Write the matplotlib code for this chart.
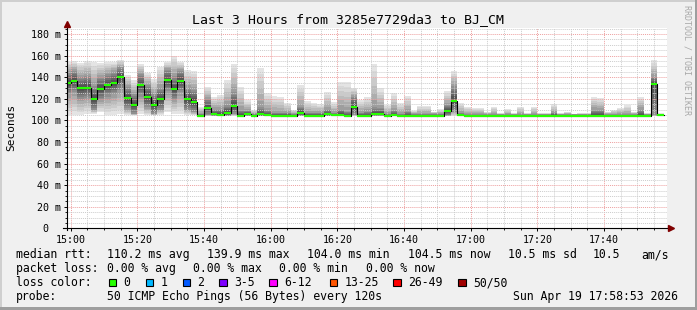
import numpy as np
import matplotlib
matplotlib.use("Agg")
import matplotlib.pyplot as plt
from matplotlib.patches import Rectangle

plt.rcParams['font.family'] = ['DejaVu Sans Mono']

W, H = 697, 310

# 2 minute bins, minutes after 15:00 (first bin starts 14:58)
bin_start = np.arange(-2, 178, 2)

median = [134.5, 136.7, 130.2, 130.2, 120.0, 129.3, 132.7, 134.5, 140.0, 121.0,
          114.3, 132.7, 121.7, 114.3, 119.8, 137.5, 129.3, 136.5, 119.8, 117.2,
          104.2, 111.5, 106.0, 105.3, 106.8, 113.4, 104.2, 106.0, 104.2, 106.0,
          105.0, 104.2, 104.2, 104.2, 104.2, 106.8, 104.2, 104.2, 104.0, 106.0,
          105.0, 105.0, 104.2, 112.3, 104.2, 104.2, 106.0, 106.0, 104.2, 105.0,
          104.2, 104.2, 104.2, 104.2, 104.2, 104.2, 104.2, 108.6, 118.2, 105.0,
          104.2, 104.2, 104.2, 104.2, 104.2, 104.2, 104.2, 104.2, 104.2, 104.2,
          104.2, 104.2, 104.2, 104.2, 104.2, 104.2, 104.2, 104.2, 104.2, 104.2,
          104.2, 104.2, 104.2, 104.2, 104.2, 104.2, 104.2, 104.2, 133.9, 104.5]

smoke_hi = [154.3, 155.0, 153.4, 155.0, 154.0, 153.0, 154.0, 154.0, 156.0, 142.0,
            137.0, 152.0, 144.0, 138.0, 149.6, 154.0, 159.8, 154.0, 146.6, 146.0,
            112.6, 130.5, 122.0, 123.4, 137.6, 152.4, 131.0, 118.8, 109.5, 148.7,
            125.6, 122.5, 121.3, 115.7, 109.5, 132.7, 117.9, 115.7, 115.0, 126.5,
            116.6, 135.8, 135.8, 130.2, 118.8, 121.9, 152.1, 129.6, 114.2, 125.6,
            115.7, 122.8, 108.6, 113.2, 113.2, 108.0, 110.2, 127.1, 145.6, 115.7,
            112.6, 111.0, 111.0, 108.0, 112.6, 106.5, 110.4, 106.5, 112.6, 106.5,
            112.6, 106.5, 106.5, 114.8, 106.5, 108.0, 105.5, 106.5, 106.5, 121.9,
            121.0, 108.0, 109.5, 111.7, 114.2, 108.0, 121.9, 106.5, 155.8, 106.5]

smoke_lo = [105.0, 105.0, 105.0, 106.0, 106.0, 108.0, 105.0, 105.0, 106.0, 104.5,
            104.5, 106.0, 104.5, 104.5, 105.0, 108.0, 106.0, 106.0, 104.5, 104.5] + [103.8] * 70

core_lo = [124, 126, 120, 121, 110, 119, 122, 124, 128, 111,
           106, 122, 112, 106, 110, 127, 119, 126, 110, 108,
           104, 105, 104, 104, 104, 106, 104, 104, 104, 104,
           104, 104, 104, 104, 104, 104, 104, 104, 104, 104,
           104, 104, 104, 105, 104, 104, 104, 104, 104, 104,
           104, 104, 104, 104, 104, 104, 104, 104, 108, 104,
           104, 104, 104, 104, 104, 104, 104, 104, 104, 104,
           104, 104, 104, 104, 104, 104, 104, 104, 104, 104,
           104, 104, 104, 104, 104, 104, 104, 104, 104, 104]

core_hi = [144, 146, 140, 141, 132, 140, 143, 145, 149, 131,
           124, 143, 133, 124, 130, 147, 141, 146, 130, 128,
           106, 120, 110, 110, 114, 126, 110, 109, 106, 112,
           109, 107, 107, 107, 106, 112, 107, 107, 107, 110,
           107, 110, 108, 122, 107, 108, 112, 111, 106, 109,
           106, 108, 106, 106, 106, 106, 106, 114, 132, 107,
           105.5, 105.5, 105.5, 105.5, 105.5, 105.5, 105.5, 105.5, 105.5, 105.5,
           105.5, 105.5, 105.5, 107, 105.5, 105.5, 105.5, 105.5, 105.5, 110,
           110, 105.5, 105.5, 105.5, 105.5, 105.5, 110, 105.5, 140, 105]

x_ticks = [0, 20, 40, 60, 80, 100, 120, 140, 160]
x_labels = ["15:00", "15:20", "15:40", "16:00", "16:20", "16:40", "17:00", "17:20", "17:40"]
y_ticks = [0, 20, 40, 60, 80, 100, 120, 140, 160, 180]
y_labels = ["0  ", "20 m", "40 m", "60 m", "80 m", "100 m", "120 m", "140 m", "160 m", "180 m"]

loss_labels = ["0", "1", "2", "3-5", "6-12", "13-25", "26-49", "50/50"]
loss_colors = ["#26ff00", "#00b8ff", "#0059ff", "#7e00ff", "#ff00ff", "#ff5500", "#ff0000", "#a10000"]


def fx(x):
    return x / W


def fy(y):
    return 1 - y / H


fig = plt.figure(figsize=(W / 100, H / 100), dpi=100)
fig.patch.set_facecolor("#f0f0f0")

ax = fig.add_axes([fx(67), fy(228.3), 600 / W, 200 / H])
ax.set_facecolor("white")
ax.set_xlim(-1.117, 178.883)
ax.set_ylim(0, 200 / 1.08)

med = np.array(median)
hi = np.array(smoke_hi)
lo = np.array(smoke_lo)
clo = np.array(core_lo, dtype=float)
chi = np.array(core_hi, dtype=float)
edges = np.append(bin_start, bin_start[-1] + 2)


def band(b, t, c):
    ax.fill_between(edges, np.append(b, b[-1]), np.append(t, t[-1]), step="post",
                    color=c, linewidth=0, zorder=1)


# smoke: light outer band fading into darker core
outer = ["#e4e4e4", "#d8d8d8", "#cacaca", "#bcbcbc", "#adadad", "#9e9e9e"]
for i, c in enumerate(outer):
    t = i / len(outer)
    band(lo + (clo - lo) * t, hi - (hi - chi) * t, c)
inner = ["#8f8f8f", "#808080", "#717171", "#626262", "#545454"]
for i, c in enumerate(inner):
    t = i / len(inner) * 0.9
    band(clo + (med - clo) * t, chi - (chi - med) * t, c)

# median line
ax.step(edges, np.append(med, med[-1]), where="post", color="black", lw=0.8, zorder=3)
ax.hlines(med, bin_start, bin_start + 2, colors="#26ff00", lw=1.5, zorder=4)

ax.set_xticks(x_ticks)
ax.set_xticklabels(x_labels)
ax.set_xticks(np.arange(0, 180, 5), minor=True)
ax.set_yticks(y_ticks)
ax.set_yticklabels(y_labels)
ax.set_yticks(np.arange(0, 186, 5), minor=True)
ax.set_axisbelow(False)
ax.grid(which="minor", color="#cccccc", linestyle=(0, (1, 1)), lw=0.7, zorder=2)
ax.grid(which="major", color="#eea0a0", linestyle=(0, (1, 1)), lw=0.7, zorder=2)
ax.tick_params(which="major", length=2.5, width=0.7, labelsize=7.2, pad=2)
ax.tick_params(which="minor", length=1.5, width=0.6)
for s in ax.spines.values():
    s.set_visible(False)

# axes with arrows
ax.plot([-0.006, 1.006], [0, 0], transform=ax.transAxes, color="black", lw=0.8, clip_on=False, zorder=5)
ax.plot([0, 0], [-0.01, 1.02], transform=ax.transAxes, color="black", lw=0.8, clip_on=False, zorder=5)
ax.plot(1.006, 0, marker=">", ms=4, color="#800000", transform=ax.transAxes, clip_on=False, zorder=6)
ax.plot(0, 1.02, marker="^", ms=4, color="#800000", transform=ax.transAxes, clip_on=False, zorder=6)

fig.text(fx(348.5), fy(23.5), "Last 3 Hours from 3285e7729da3 to BJ_CM",
         ha="center", va="baseline", fontsize=9.5)
fig.text(fx(11), fy(127), "Seconds", rotation=90, ha="center", va="center", fontsize=8)
fig.text(fx(687.5), fy(60), "RRDTOOL / TOBI OETIKER", rotation=-90, ha="center", va="center",
         fontsize=6, color="#a8a8a8")

fs = 8.3
rows = [
    (258, [(16, "median rtt:"), (107.3, "110.2 ms avg"), (207.3, "139.9 ms max"),
           (307.3, "104.0 ms min"), (407.7, "104.5 ms now"), (507.7, "10.5 ms sd"),
           (592.3, "10.5"), (641.7, "am/s")]),
    (272, [(16, "packet loss:"), (106.7, "0.00 % avg"), (193.3, "0.00 % max"),
           (279.3, "0.00 % min"), (365.7, "0.00 % now")]),
    (286, [(16, "loss color:")]),
    (300, [(16, "probe:"), (107.3, "50 ICMP Echo Pings (56 Bytes) every 120s"),
           (513.3, "Sun Apr 19 17:58:53 2026")]),
]
for yb, items in rows:
    for xx, s in items:
        fig.text(fx(xx), fy(yb), s, ha="left", va="baseline", fontsize=fs)

box_x = [108.7, 145.7, 182.7, 219.3, 269.3, 329.5, 393.3, 458.3]
for bx, lab, col in zip(box_x, loss_labels, loss_colors):
    fig.patches.append(Rectangle((fx(bx), fy(286.3)), 7.5 / W, 7.5 / H, transform=fig.transFigure,
                                 facecolor=col, edgecolor="black", lw=0.8))
    fig.text(fx(bx + 14.7), fy(286), lab, ha="left", va="baseline", fontsize=fs)

# rrdtool style shaded frame
fig.patches.append(Rectangle((0, 1 - 2 / H), 1, 2 / H, transform=fig.transFigure, color="#cfcfcf", lw=0))
fig.patches.append(Rectangle((0, 0), 2 / W, 1, transform=fig.transFigure, color="#cfcfcf", lw=0))
fig.patches.append(Rectangle((0, 0), 1, 3 / H, transform=fig.transFigure, color="#9e9e9e", lw=0))
fig.patches.append(Rectangle((1 - 2 / W, 0), 2 / W, 1, transform=fig.transFigure, color="#9e9e9e", lw=0))

fig.savefig("out.png", dpi=100, facecolor=fig.get_facecolor())
